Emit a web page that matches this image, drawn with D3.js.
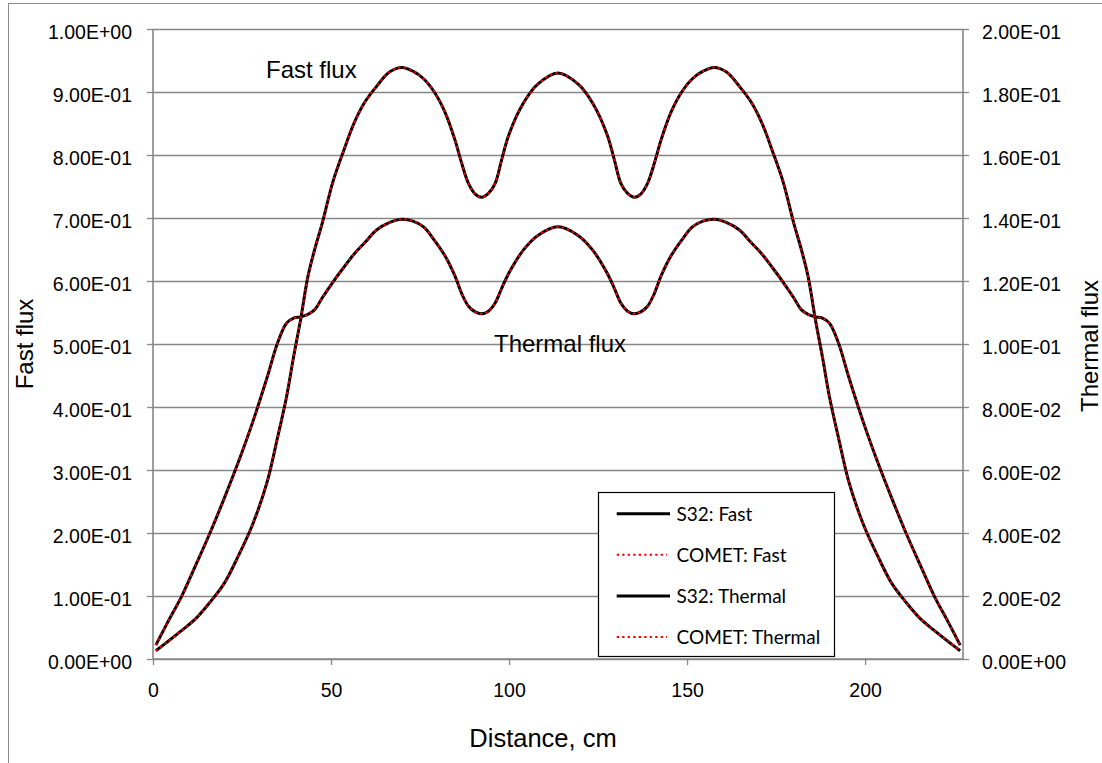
<!DOCTYPE html>
<html>
<head>
<meta charset="utf-8">
<script src="https://cdn.jsdelivr.net/npm/d3@7"></script>
<style>
    body { margin: 0; background: #ffffff; }
    svg { display: block; }
    .tick text { font-family: "Liberation Sans", Arial, sans-serif; font-size: 19.5px; fill: #000000; }
</style>
</head>
<body>
<svg id="chart" width="1102" height="763"></svg>
<script>

// distance along the core, cm
var distance = [0.8, 4, 8, 12, 16, 20, 24, 28, 32, 35, 37.5, 39.5, 41.5, 43.5, 45.5, 47.5, 50.5, 53.5, 56.5, 59.5,
    62.8, 66.5, 69.9, 73, 76, 79, 82, 84.8, 86.7, 88.6, 90.5, 92.3, 94.2, 96.1, 97.9, 100, 104, 108,
    113.75,
    119.5, 123.5, 127.5, 129.6, 131.4, 133.3, 135.2, 137, 138.9, 140.8, 142.7, 145.5, 148.5, 151.5, 154.5,
    157.6, 161, 164.7, 168, 171, 174, 177, 180, 182, 184, 186, 188, 190, 192.5, 195.5, 199.5, 203.5,
    207.5, 211.5, 215.5, 219.5, 223.5, 226.7];

var s32Fast = [0.013, 0.027, 0.045, 0.064, 0.090, 0.120, 0.164, 0.214, 0.280, 0.352, 0.416, 0.480, 0.540, 0.607, 0.652, 0.691, 0.757, 0.806, 0.851, 0.884,
    0.909, 0.932, 0.939, 0.933, 0.921, 0.900, 0.868, 0.824, 0.787, 0.755, 0.738, 0.733, 0.739, 0.755, 0.792, 0.833, 0.882, 0.912,
    0.930,
    0.912, 0.882, 0.833, 0.792, 0.755, 0.739, 0.733, 0.738, 0.755, 0.787, 0.824, 0.868, 0.900, 0.921, 0.933,
    0.939, 0.932, 0.909, 0.884, 0.851, 0.806, 0.757, 0.691, 0.652, 0.607, 0.540, 0.480, 0.416, 0.352, 0.280, 0.214, 0.164,
    0.120, 0.090, 0.064, 0.045, 0.027, 0.013];

var cometFast = [0.013, 0.027, 0.045, 0.064, 0.090, 0.120, 0.164, 0.214, 0.280, 0.352, 0.416, 0.480, 0.540, 0.607, 0.652, 0.691, 0.757, 0.806, 0.851, 0.884,
    0.909, 0.932, 0.939, 0.933, 0.921, 0.900, 0.868, 0.824, 0.787, 0.755, 0.738, 0.733, 0.739, 0.755, 0.792, 0.833, 0.882, 0.912,
    0.930,
    0.912, 0.882, 0.833, 0.792, 0.755, 0.739, 0.733, 0.738, 0.755, 0.787, 0.824, 0.868, 0.900, 0.921, 0.933,
    0.939, 0.932, 0.909, 0.884, 0.851, 0.806, 0.757, 0.691, 0.652, 0.607, 0.540, 0.480, 0.416, 0.352, 0.280, 0.214, 0.164,
    0.120, 0.090, 0.064, 0.045, 0.027, 0.013];

var s32Thermal = [0.0044, 0.0114, 0.0198, 0.0298, 0.0400, 0.0510, 0.0626, 0.0752, 0.0892, 0.1004, 0.1066, 0.1082, 0.1086, 0.1094, 0.1110, 0.1146, 0.1196, 0.1242, 0.1286, 0.1322,
    0.1362, 0.1386, 0.1396, 0.1390, 0.1372, 0.1330, 0.1280, 0.1216, 0.1160, 0.1120, 0.1102, 0.1096, 0.1104, 0.1130, 0.1176, 0.1226, 0.1298, 0.1344,
    0.1372,
    0.1344, 0.1298, 0.1226, 0.1176, 0.1130, 0.1104, 0.1096, 0.1102, 0.1120, 0.1160, 0.1216, 0.1280, 0.1330, 0.1372, 0.1390,
    0.1396, 0.1386, 0.1362, 0.1322, 0.1286, 0.1242, 0.1196, 0.1146, 0.1110, 0.1094, 0.1086, 0.1082, 0.1066, 0.1004, 0.0892, 0.0752, 0.0626,
    0.0510, 0.0400, 0.0298, 0.0198, 0.0114, 0.0044];

var cometThermal = [0.0044, 0.0114, 0.0198, 0.0298, 0.0400, 0.0510, 0.0626, 0.0752, 0.0892, 0.1004, 0.1066, 0.1082, 0.1086, 0.1094, 0.1110, 0.1146, 0.1196, 0.1242, 0.1286, 0.1322,
    0.1362, 0.1386, 0.1396, 0.1390, 0.1372, 0.1330, 0.1280, 0.1216, 0.1160, 0.1120, 0.1102, 0.1096, 0.1104, 0.1130, 0.1176, 0.1226, 0.1298, 0.1344,
    0.1372,
    0.1344, 0.1298, 0.1226, 0.1176, 0.1130, 0.1104, 0.1096, 0.1102, 0.1120, 0.1160, 0.1216, 0.1280, 0.1330, 0.1372, 0.1390,
    0.1396, 0.1386, 0.1362, 0.1322, 0.1286, 0.1242, 0.1196, 0.1146, 0.1110, 0.1094, 0.1086, 0.1082, 0.1066, 0.1004, 0.0892, 0.0752, 0.0626,
    0.0510, 0.0400, 0.0298, 0.0198, 0.0114, 0.0044];

var fastTicks = [0, 0.1, 0.2, 0.3, 0.4, 0.5, 0.6, 0.7, 0.8, 0.9, 1.0];
var thermalTicks = [0, 0.02, 0.04, 0.06, 0.08, 0.10, 0.12, 0.14, 0.16, 0.18, 0.20];
var distanceTicks = [0, 50, 100, 150, 200];

var legendNames = ["S32: Fast", "COMET: Fast", "S32: Thermal", "COMET: Thermal"];

var gridColor = "#878787";
var font = '"Liberation Sans", Arial, sans-serif';

var svg = d3.select('#chart');

var x = d3.scaleLinear().domain([0, 227.5]).range([153, 963]);
var yFast = d3.scaleLinear().domain([0, 1]).range([659, 29]);
var yThermal = d3.scaleLinear().domain([0, 0.2]).range([659, 29]);

// Excel style labels, 1.00E-01
function sci(v){
    let s = v.toExponential(2).toUpperCase();
    let parts = s.split('E');
    let sign = parts[1][0];
    let digits = parts[1].slice(1);
    if(digits.length < 2){
        digits = '0' + digits;
    }
    return parts[0] + 'E' + sign + digits;
}

// chart frame (cut off at the right and bottom)
svg.append('rect')
    .attr('x', 8.5)
    .attr('y', 3.5)
    .attr('width', 1120)
    .attr('height', 800)
    .attr('fill', 'none')
    .attr('stroke', '#8c8c8c')
    .attr('stroke-width', 1);

// gridlines
svg.append('g')
    .selectAll('line')
    .data(fastTicks)
    .enter()
    .append('line')
    .attr('x1', x.range()[0])
    .attr('x2', x.range()[1])
    .attr('y1', d => Math.round(yFast(d)) + 0.5)
    .attr('y2', d => Math.round(yFast(d)) + 0.5)
    .attr('stroke', gridColor)
    .attr('stroke-width', 1.3);

// axes
var leftAxis = svg.append('g')
    .attr('transform', 'translate(153,0)')
    .call(d3.axisLeft(yFast).tickValues(fastTicks).tickFormat(sci).tickSize(6).tickPadding(15));

var rightAxis = svg.append('g')
    .attr('transform', 'translate(963,0)')
    .call(d3.axisRight(yThermal).tickValues(thermalTicks).tickFormat(sci).tickSize(6).tickPadding(13));

var bottomAxis = svg.append('g')
    .attr('transform', 'translate(0,659)')
    .call(d3.axisBottom(x).tickValues(distanceTicks).tickFormat(d3.format('d')).tickSize(6).tickPadding(18));

[leftAxis, rightAxis, bottomAxis].forEach(function(a){
    a.select('.domain').attr('stroke', gridColor).attr('stroke-width', 1.6);
    a.selectAll('.tick line').attr('stroke', gridColor).attr('stroke-width', 1.3);
});

leftAxis.selectAll('.tick text').attr('dy', '0.47em');
rightAxis.selectAll('.tick text').attr('dy', '0.5em');

// left and right axis lines drawn full height without end ticks
leftAxis.select('.domain').attr('d', 'M0,' + yFast(1) + 'V' + yFast(0));
rightAxis.select('.domain').attr('d', 'M0,' + yThermal(0.2) + 'V' + yThermal(0));
bottomAxis.select('.domain').attr('d', 'M' + x.range()[0] + ',0H' + x.range()[1]);

// curves
var fastLine = d3.line()
    .x((d, i) => x(distance[i]))
    .y(d => yFast(d))
    .curve(d3.curveCatmullRom);

var thermalLine = d3.line()
    .x((d, i) => x(distance[i]))
    .y(d => yThermal(d))
    .curve(d3.curveCatmullRom);

function drawSeries(values, lineGen, color, width, dash){
    svg.append('path')
        .datum(values)
        .attr('d', lineGen)
        .attr('fill', 'none')
        .attr('stroke', color)
        .attr('stroke-width', width)
        .attr('stroke-dasharray', dash)
        .attr('stroke-linejoin', 'round');
}

drawSeries(s32Fast, fastLine, '#000000', 3, null);
drawSeries(cometFast, fastLine, '#ff0000', 2, '2.3,3.2');
drawSeries(s32Thermal, thermalLine, '#000000', 3, null);
drawSeries(cometThermal, thermalLine, '#ff0000', 2, '2.3,3.2');

// labels on the curves
svg.append('text')
    .attr('x', 266)
    .attr('y', 78)
    .attr('font-family', font)
    .attr('font-size', 24)
    .text('Fast flux');

svg.append('text')
    .attr('x', 494)
    .attr('y', 352)
    .attr('font-family', font)
    .attr('font-size', 24)
    .text('Thermal flux');

// axis titles
svg.append('text')
    .attr('transform', 'translate(33,344) rotate(-90)')
    .attr('text-anchor', 'middle')
    .attr('font-family', font)
    .attr('font-size', 24)
    .text('Fast flux');

svg.append('text')
    .attr('transform', 'translate(1098,346) rotate(-90)')
    .attr('text-anchor', 'middle')
    .attr('font-family', font)
    .attr('font-size', 24)
    .text('Thermal flux');

svg.append('text')
    .attr('x', 543)
    .attr('y', 747)
    .attr('text-anchor', 'middle')
    .attr('font-family', font)
    .attr('font-size', 25.5)
    .text('Distance, cm');

// legend
var legend = svg.append('g');

legend.append('rect')
    .attr('x', 598.5)
    .attr('y', 492.5)
    .attr('width', 236)
    .attr('height', 164)
    .attr('fill', '#ffffff')
    .attr('stroke', '#000000')
    .attr('stroke-width', 1.2);

legendNames.forEach(function(name, i){
    let base = 520.7 + i * 41.1;
    let red = (i % 2 == 1);

    legend.append('line')
        .attr('x1', 616.7)
        .attr('x2', red ? 667 : 670)
        .attr('y1', base - 7)
        .attr('y2', base - 7)
        .attr('stroke', red ? '#ff0000' : '#000000')
        .attr('stroke-width', red ? 2 : 3)
        .attr('stroke-dasharray', red ? '2.3,3.2' : null);

    legend.append('text')
        .attr('x', 676.5)
        .attr('y', base)
        .attr('font-family', 'Lato, "Open Sans", sans-serif')
        .attr('font-size', 19)
        .text(name);
});

</script>
</body>
</html>
